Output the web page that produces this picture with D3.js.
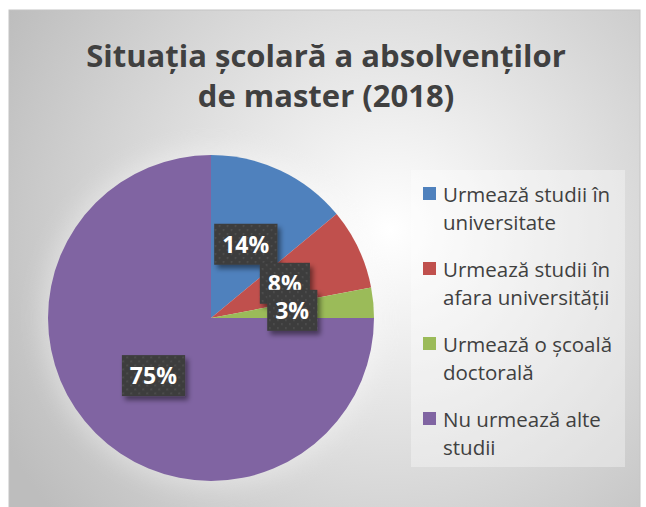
<!DOCTYPE html>
<html>
<head>
<meta charset="utf-8">
<script src="https://cdn.jsdelivr.net/npm/d3@7"></script>
<style>
  body { margin: 0; background: #ffffff; }
  svg { display: block; }
</style>
</head>
<body>
<div id="chart"></div>
<script>
// chart data
const categories = [
  "Urmează studii în universitate",
  "Urmează studii în afara universității",
  "Urmează o școală doctorală",
  "Nu urmează alte studii"
];
const legendLines = [
  ["Urmează studii în", "universitate"],
  ["Urmează studii în", "afara universității"],
  ["Urmează o școală", "doctorală"],
  ["Nu urmează alte", "studii"]
];
const values = [14, 8, 3, 75];
const colors = ["#4F81BD", "#C0504D", "#9BBB59", "#8064A2"];
const titleLines = ["Situația școlară a absolvenților", "de master (2018)"];

const W = 646, H = 507;
const frame = { x: 9, y: 10, w: 631, h: 510 };
const center = { x: 211, y: 318 };
const radius = 163;
const font = "'Open Sans', Lato, sans-serif";

const svg = d3.select("#chart").append("svg")
    .attr("width", W)
    .attr("height", H);

const defs = svg.append("defs");

const bg = defs.append("radialGradient")
    .attr("id", "bg")
    .attr("gradientUnits", "userSpaceOnUse")
    .attr("cx", 390).attr("cy", 230).attr("r", 440);
bg.append("stop").attr("offset", "0%").attr("stop-color", "#ffffff");
bg.append("stop").attr("offset", "100%").attr("stop-color", "#bdbdbd");

// dotted pattern for data labels
const pat = defs.append("pattern")
    .attr("id", "dots")
    .attr("patternUnits", "userSpaceOnUse")
    .attr("width", 8).attr("height", 8);
pat.append("rect").attr("width", 8).attr("height", 8).attr("fill", "#3d3d3d");
pat.append("rect").attr("x", 1).attr("y", 1).attr("width", 1.5).attr("height", 1.5).attr("fill", "#575757");
pat.append("rect").attr("x", 5).attr("y", 5).attr("width", 1.5).attr("height", 1.5).attr("fill", "#575757");

const shadow = defs.append("filter")
    .attr("id", "shadow")
    .attr("x", "-30%").attr("y", "-30%").attr("width", "160%").attr("height", "160%");
shadow.append("feDropShadow")
    .attr("dx", 3).attr("dy", 4)
    .attr("stdDeviation", 2.5)
    .attr("flood-color", "#000")
    .attr("flood-opacity", 0.45);

const glow = defs.append("filter")
    .attr("id", "glow")
    .attr("x", "-30%").attr("y", "-30%").attr("width", "160%").attr("height", "160%");
glow.append("feGaussianBlur").attr("stdDeviation", 12);

// background frame
svg.append("rect")
    .attr("x", frame.x).attr("y", frame.y)
    .attr("width", frame.w).attr("height", frame.h)
    .attr("fill", "url(#bg)")
    .attr("stroke", "#c4c4c4")
    .attr("stroke-width", 1);

// title
svg.append("g")
    .selectAll("text")
    .data(titleLines)
    .enter()
    .append("text")
    .attr("x", 326)
    .attr("y", (d, i) => 67 + i * 40)
    .attr("text-anchor", "middle")
    .style("font-family", font)
    .style("font-weight", "bold")
    .style("font-size", "31px")
    .style("fill", "#404040")
    .text(d => d);

// pie
const pie = d3.pie().sort(null).value(d => d);
const arcs = pie(values);
const arc = d3.arc().innerRadius(0).outerRadius(radius);

const g = svg.append("g")
    .attr("transform", `translate(${center.x},${center.y})`);

g.append("circle")
    .attr("r", radius + 6)
    .attr("fill", "#ffffff")
    .attr("opacity", 0.35)
    .attr("filter", "url(#glow)");

g.selectAll("path.slice")
    .data(arcs)
    .enter()
    .append("path")
    .attr("class", "slice")
    .attr("d", arc)
    .attr("fill", (d, i) => colors[i])
    .attr("stroke", "none");

// data labels
const labels = g.selectAll("g.lbl")
    .data(arcs)
    .enter()
    .append("g")
    .attr("class", "lbl")
    .attr("transform", d => `translate(${arc.centroid(d)})`);

labels.append("text")
    .attr("text-anchor", "middle")
    .attr("dy", "0.36em")
    .style("font-family", font)
    .style("font-weight", "bold")
    .style("font-size", "23px")
    .style("fill", "#ffffff")
    .text(d => d.data + "%");

labels.each(function() {
  const grp = d3.select(this);
  const bb = grp.select("text").node().getBBox();
  const padX = 8, h = 41;
  grp.insert("rect", "text")
      .attr("x", bb.x - padX)
      .attr("y", -h / 2)
      .attr("width", bb.width + padX * 2)
      .attr("height", h)
      .attr("fill", "url(#dots)")
      .attr("filter", "url(#shadow)");
});

// legend
const legend = svg.append("g");
legend.append("rect")
    .attr("x", 411).attr("y", 170)
    .attr("width", 214).attr("height", 297)
    .attr("fill", "#ffffff")
    .attr("opacity", 0.35);

const items = legend.selectAll("g.item")
    .data(categories)
    .enter()
    .append("g")
    .attr("class", "item")
    .attr("transform", (d, i) => `translate(423,${202 + i * 75})`);

items.append("rect")
    .attr("x", 0).attr("y", -15)
    .attr("width", 13).attr("height", 13)
    .attr("fill", (d, i) => colors[i]);

items.append("text")
    .style("font-family", font)
    .style("font-size", "20.5px")
    .style("fill", "#404040")
    .selectAll("tspan")
    .data((d, i) => legendLines[i])
    .enter()
    .append("tspan")
    .attr("x", 20)
    .attr("y", (d, j) => j * 28)
    .text(d => d);
</script>
</body>
</html>
